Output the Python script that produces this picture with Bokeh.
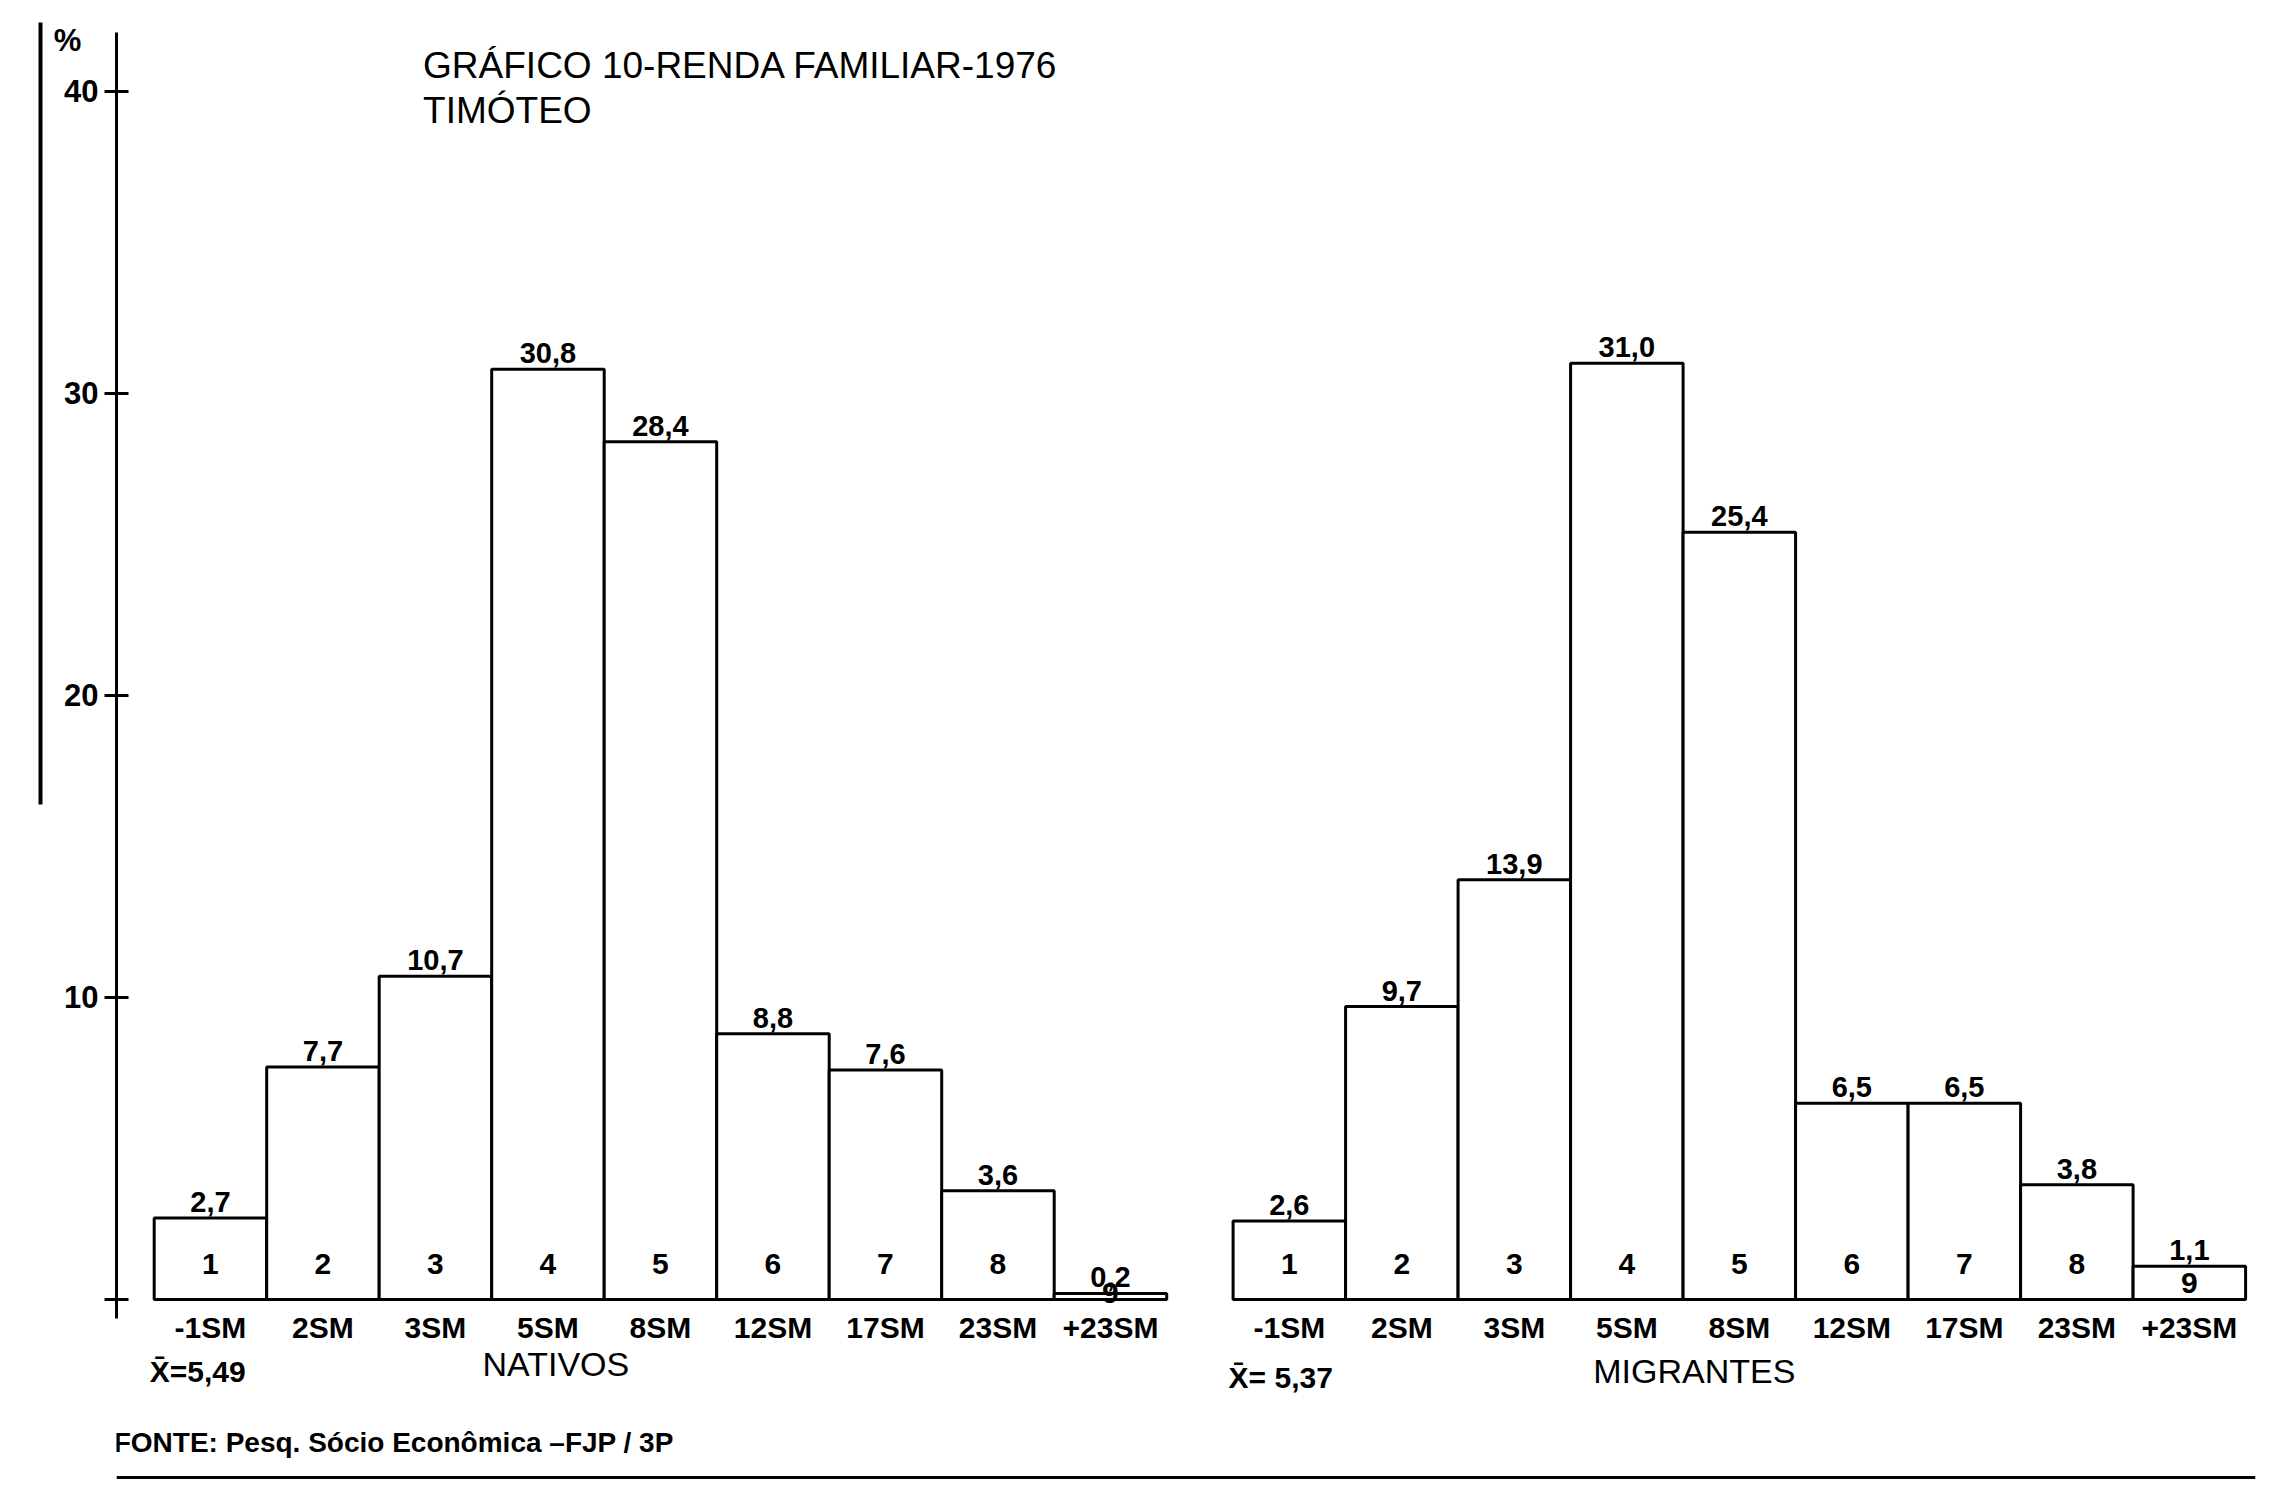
from bokeh.plotting import figure
from bokeh.models import Range1d, FixedTicker, LinearAxis, Span, ColumnDataSource
from bokeh.core.properties import value
from bokeh.embed import file_html
from bokeh.resources import INLINE

# ---------------- data ----------------
categories = ["-1SM", "2SM", "3SM", "5SM", "8SM", "12SM", "17SM", "23SM", "+23SM"]
class_numbers = ["1", "2", "3", "4", "5", "6", "7", "8", "9"]
nativos = [2.7, 7.7, 10.7, 30.8, 28.4, 8.8, 7.6, 3.6, 0.2]
migrantes = [2.6, 9.7, 13.9, 31.0, 25.4, 6.5, 6.5, 3.8, 1.1]
y_ticks = [0, 10, 20, 30, 40]
y_unit = "%"
group_names = ["NATIVOS", "MIGRANTES"]
group_means = ["X\u0304=5,49", "X\u0304= 5,37"]
title_lines = ["GRÁFICO 10-RENDA FAMILIAR-1976", "TIMÓTEO"]
source_note = "FONTE: Pesq. Sócio Econômica \u2013FJP / 3P"

# ---------------- layout constants ----------------
GAP = 0.59            # gap between the two groups (in bar widths)
RIGHT0 = 9 + GAP      # start of second group
FONT = "Liberation Sans"
NAME_X = [3.57, 4.10]
NAME_Y = [-2.15, -2.38]
MEAN_Y = [-2.38, -2.58]
NUM_Y9 = [0.2, 0.53]

def fmt(v):
    return f"{v:.1f}".replace(".", ",")

p = figure(width=2263, height=1479,
           x_range=Range1d(-0.335, 18.678), y_range=Range1d(-5.96, 42.28),
           x_axis_type=None, y_axis_type=None,
           min_border_left=116, min_border_right=8, min_border_top=22, min_border_bottom=0,
           toolbar_location=None, output_backend="svg")
p.outline_line_color = None
p.background_fill_color = "white"
p.border_fill_color = "white"

# y axis; the top tick label also carries the "%" unit on a line above it
overrides = {0: ""}
overrides[40] = y_unit + "\u00a0\u00a0\n\n40\n\n"
yaxis = LinearAxis(ticker=FixedTicker(ticks=y_ticks, minor_ticks=[]),
                   bounds=(-0.63, 41.95),
                   major_label_overrides=overrides,
                   major_tick_in=12, major_tick_out=12,
                   minor_tick_in=0, minor_tick_out=0,
                   axis_line_width=3, axis_line_color="black",
                   major_tick_line_width=3, major_tick_line_color="black",
                   major_label_text_font=FONT, major_label_text_font_size="31px",
                   major_label_text_font_style="bold", major_label_text_color="black",
                   major_label_text_line_height=0.72,
                   major_label_standoff=6,
                   axis_label=".", axis_label_text_color=None,
                   axis_label_text_font_size="2px", axis_label_standoff=6)
p.add_layout(yaxis, "left")

# thick scanned page-edge line at far left
edge = LinearAxis(ticker=FixedTicker(ticks=[], minor_ticks=[]),
                  bounds=(16.4, 42.28),
                  axis_line_width=4, axis_line_color="black",
                  major_tick_in=0, major_tick_out=0, minor_tick_in=0, minor_tick_out=0,
                  major_label_text_font_size="0px")
p.add_layout(edge, "left")

# bottom rule
p.add_layout(Span(location=-5.91, dimension="width", line_color="black", line_width=4))

for gi, (vals, x0) in enumerate([(nativos, 0.0), (migrantes, RIGHT0)]):
    lefts = [x0 + i for i in range(len(vals))]
    centers = [l + 0.5 for l in lefts]
    src = ColumnDataSource(dict(
        left=lefts, right=[l + 1 for l in lefts], top=vals, bottom=[0] * len(vals),
        x=centers, lab=[fmt(v) for v in vals],
    ))
    p.quad(left="left", right="right", bottom="bottom", top="top", source=src,
           fill_color="white", line_color="black", line_width=3)
    # value labels above bars
    p.text(x="x", y="top", text="lab", source=src, y_offset=-6,
           text_align="center", text_baseline="bottom",
           text_font=value(FONT), text_font_size="29px", text_font_style="bold",
           text_color="black")
    # class numbers inside bars
    num_y = [1.16] * 8 + [NUM_Y9[gi]]
    src2 = ColumnDataSource(dict(x=centers, y=num_y, num=class_numbers))
    p.text(x="x", y="y", text="num", source=src2,
           text_align="center", text_baseline="middle",
           text_font=value(FONT), text_font_size="30px", text_font_style="bold",
           text_color="black")
    # category labels below
    src3 = ColumnDataSource(dict(x=centers, y=[-0.93] * len(vals), cat=categories))
    p.text(x="x", y="y", text="cat", source=src3,
           text_align="center", text_baseline="middle",
           text_font=value(FONT), text_font_size="30px", text_font_style="bold",
           text_color="black")
    # group name
    p.text(x=[x0 + NAME_X[gi]], y=[NAME_Y[gi]], text=[group_names[gi]],
           text_align="center", text_baseline="middle",
           text_font=value(FONT), text_font_size="34px", text_color="black")
    # mean
    p.text(x=[x0 - 0.04], y=[MEAN_Y[gi]], text=[group_means[gi]],
           text_align="left", text_baseline="middle",
           text_font=value(FONT), text_font_size="30px", text_font_style="bold",
           text_color="black")

# title
p.text(x=[2.39, 2.39], y=[40.86, 39.37], text=title_lines,
       text_align="left", text_baseline="middle",
       text_font=value(FONT), text_font_size="37px", text_color="black")

# source note
p.text(x=[-0.36], y=[-4.74], text=[source_note],
       text_align="left", text_baseline="middle",
       text_font=value(FONT), text_font_size="28px", text_font_style="bold",
       text_color="black")

p.xgrid.visible = False
p.ygrid.visible = False

open("out.html", "w").write(file_html(p, INLINE))
